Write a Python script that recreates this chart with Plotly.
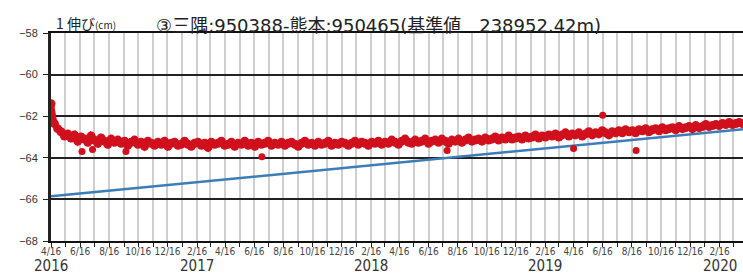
import pandas as pd
import plotly.graph_objects as go

# ---- data ----
start_date = "2016-04-16"
weekly_values = [
    -61.40, -62.35, -62.60, -62.75, -62.95, -62.85, -63.05, -62.90, -63.20, -63.00,
    -63.10, -63.25, -62.95, -63.15, -63.30, -63.05, -63.20, -63.35, -63.10, -63.25,
    -63.15, -63.30, -63.20, -63.40, -63.25, -63.15, -63.35, -63.25, -63.45, -63.20,
    -63.30, -63.40, -63.25, -63.35, -63.20, -63.45, -63.30, -63.25, -63.40, -63.35,
    -63.20, -63.35, -63.45, -63.30, -63.25, -63.40, -63.30, -63.50, -63.25, -63.35,
    -63.30, -63.20, -63.40, -63.35, -63.25, -63.45, -63.30, -63.35, -63.20, -63.40,
    -63.30, -63.45, -63.25, -63.35, -63.30, -63.20, -63.40, -63.30, -63.35, -63.25,
    -63.40, -63.30, -63.25, -63.35, -63.45, -63.30, -63.20, -63.35, -63.30, -63.40,
    -63.25, -63.35, -63.30, -63.20, -63.40, -63.30, -63.35, -63.25, -63.30, -63.40,
    -63.30, -63.20, -63.35, -63.25, -63.30, -63.40, -63.25, -63.30, -63.20, -63.35,
    -63.25, -63.30, -63.15, -63.25, -63.35, -63.20, -63.10, -63.25, -63.30, -63.15,
    -63.25, -63.20, -63.10, -63.30, -63.20, -63.15, -63.25, -63.10, -63.20, -63.30,
    -63.15, -63.20, -63.10, -63.25, -63.15, -63.05, -63.20, -63.15, -63.10, -63.20,
    -63.05, -63.15, -63.10, -63.00, -63.15, -63.05, -63.10, -62.95, -63.10, -63.05,
    -63.00, -63.10, -62.95, -63.05, -63.00, -62.90, -63.05, -62.95, -63.00, -62.90,
    -62.95, -62.85, -63.00, -62.90, -62.80, -62.95, -62.85, -62.90, -62.80, -62.95,
    -62.85, -62.75, -62.90, -62.80, -62.85, -62.70, -62.80, -62.90, -62.75, -62.80,
    -62.70, -62.80, -62.65, -62.75, -62.70, -62.80, -62.65, -62.70, -62.60, -62.75,
    -62.65, -62.60, -62.70, -62.55, -62.65, -62.60, -62.55, -62.65, -62.50, -62.60,
    -62.55, -62.50, -62.60, -62.45, -62.55, -62.50, -62.40, -62.50, -62.45, -62.40,
    -62.45, -62.35, -62.40, -62.30, -62.40, -62.35, -62.30, -62.35,
]
outlier_dates = ["2016-06-20", "2016-07-12", "2016-09-20", "2017-07-02",
                 "2018-07-25", "2019-04-16", "2019-06-16", "2019-08-25"]
outlier_values = [-63.70, -63.60, -63.70, -63.95, -63.65, -63.55, -61.95, -63.65]

trend_dates = ["2016-04-16", "2020-04-05"]
trend_values = [-65.85, -62.63]

tick_dates = pd.date_range("2016-04-01", "2020-02-01", freq="2MS") + pd.Timedelta(days=15)
tick_labels = [f"{d.month}/16" for d in tick_dates]
year_dates = ["2016-04-16", "2017-02-16", "2018-02-16", "2019-02-16", "2020-02-16"]
year_labels = ["2016", "2017", "2018", "2019", "2020"]

title_text = "③三隅:950388-熊本:950465(基準値　238952.42m)"
ylabel_text = "1 伸び<span style='font-size:10px'>(cm)</span>"

weekly_dates = pd.date_range(start_date, periods=len(weekly_values), freq="7D")

RED = "#d0101c"
BLUE = "#3b7db8"
JP = "Noto Sans CJK JP, sans-serif"
TITLE_FONT = "DejaVu Sans, Noto Sans CJK JP, sans-serif"
NARROW = "Liberation Sans Narrow, DejaVu Sans Condensed, sans-serif"

fig = go.Figure()
fig.add_trace(go.Scatter(
    x=trend_dates, y=trend_values, mode="lines",
    line=dict(color=BLUE, width=2.5), showlegend=False))
fig.add_trace(go.Scatter(
    x=weekly_dates, y=weekly_values, mode="lines+markers",
    line=dict(color=RED, width=6), marker=dict(color=RED, size=9),
    showlegend=False))
fig.add_trace(go.Scatter(
    x=outlier_dates, y=outlier_values, mode="markers",
    marker=dict(color=RED, size=7), showlegend=False))

for d, t in zip(year_dates, year_labels):
    fig.add_annotation(x=d, y=0, xref="x", yref="paper", yanchor="top",
                       yshift=-15, borderpad=0, text=t, showarrow=False,
                       font=dict(family=NARROW, size=15, color="#333333"))

fig.add_annotation(x=0.006, y=1, xref="paper", yref="paper", xanchor="left",
                   yanchor="bottom", yshift=-1, borderpad=0, text=ylabel_text,
                   showarrow=False,
                   font=dict(family=JP, size=14, color="#222222"))
fig.add_annotation(x=0.473, y=1, xref="paper", yref="paper", xanchor="center",
                   yanchor="bottom", yshift=-4, borderpad=0, text=title_text,
                   showarrow=False,
                   font=dict(family=TITLE_FONT, size=18, color="#222222"))

fig.update_layout(
    width=743, height=280,
    margin=dict(l=51, r=0, t=33, b=39),
    paper_bgcolor="white", plot_bgcolor="white",
    xaxis=dict(
        type="date", range=["2016-04-16", "2020-04-05"],
        tickmode="array", tickvals=tick_dates, ticktext=tick_labels,
        tickangle=0, ticklabelstandoff=-4,
        tickfont=dict(family=NARROW, size=10, color="#444444"),
        showgrid=True, gridcolor="#cfcfcf", gridwidth=2,
        ticks="outside", ticklen=4, tickcolor="#222222",
        showline=True, linecolor="#111111", linewidth=2, mirror=True,
        minor=dict(dtick="M1", tick0="2016-04-16", showgrid=True,
                   gridcolor="#cfcfcf", gridwidth=2, ticks="outside",
                   ticklen=4, tickcolor="#222222"),
        zeroline=False,
    ),
    yaxis=dict(
        range=[-68, -58], dtick=2, tick0=-68, ticklabelstandoff=3,
        tickfont=dict(family="Liberation Sans, sans-serif", size=11, color="#333333"),
        showgrid=True, gridcolor="#222222", gridwidth=1.5,
        ticks="outside", ticklen=5, tickcolor="#222222",
        showline=True, linecolor="#222222", linewidth=3,
        zeroline=False,
    ),
)

fig.write_html(
    "out.html",
    config={"displayModeBar": False},
    post_script="document.body.style.margin='0';document.body.style.overflow='hidden';",
)
